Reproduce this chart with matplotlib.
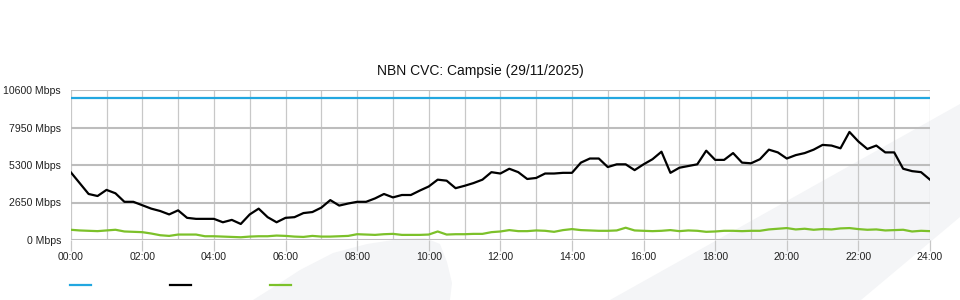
import numpy as np
import matplotlib
matplotlib.use("Agg")
import matplotlib.pyplot as plt
from matplotlib.patches import Polygon
from matplotlib.lines import Line2D

plt.rcParams['font.family'] = ['Liberation Sans', 'DejaVu Sans']

# data, 15 minute samples from 00:00 to 24:00 (Mbps)
capacity = [10000] * 97

traffic = [
    4794, 4023, 3252, 3108, 3541, 3300, 2698, 2698,
    2457, 2216, 2048, 1807, 2096, 1566, 1494, 1494,
    1494, 1253, 1421, 1132, 1807, 2216, 1614, 1253,
    1566, 1614, 1903, 1975, 2288, 2819, 2433, 2578,
    2698, 2698, 2939, 3252, 3011, 3180, 3180, 3493,
    3782, 4264, 4192, 3662, 3830, 4023, 4264, 4794,
    4698, 5035, 4794, 4312, 4384, 4698, 4698, 4746,
    4746, 5468, 5758, 5758, 5155, 5348, 5348, 4938,
    5348, 5709, 6239, 4746, 5107, 5228, 5348, 6312,
    5661, 5661, 6143, 5468, 5420, 5709, 6384, 6191,
    5758, 5998, 6143, 6384, 6721, 6673, 6480, 7636,
    6962, 6432, 6673, 6191, 6191, 5035, 4866, 4794,
    4264,
]

upload = [
    723, 675, 650, 626, 675, 723, 602, 578,
    554, 458, 337, 289, 385, 385, 385, 265,
    265, 241, 217, 193, 241, 265, 265, 313,
    289, 241, 217, 289, 241, 241, 265, 289,
    409, 385, 361, 409, 433, 361, 361, 361,
    385, 602, 385, 409, 409, 433, 433, 554,
    602, 699, 626, 626, 675, 650, 578, 699,
    771, 699, 675, 650, 650, 675, 867, 675,
    650, 626, 650, 699, 626, 675, 650, 578,
    602, 650, 650, 626, 650, 650, 747, 795,
    843, 747, 795, 723, 771, 747, 819, 843,
    771, 723, 747, 675, 699, 723, 602, 650,
    626,
]

hours = np.linspace(0, 24, len(traffic))
y_ticks = [0, 2650, 5300, 7950, 10600]
x_ticks = list(range(0, 25, 2))
x_labels = ["%02d:00" % h for h in x_ticks]

fig = plt.figure(figsize=(9.6, 3.0), dpi=100)

# light decorative shapes in the page background
def px(points):
    return [(x / 960, 1 - y / 300) for x, y in points]

band = Polygon(px([(610, 300), (960, 104), (960, 217), (861, 300)]),
               closed=True, transform=fig.transFigure, facecolor='#f4f5f7',
               edgecolor='none', zorder=-5)
blob = Polygon(px([(253, 300), (280, 283), (300, 270), (333, 253), (367, 244),
                   (400, 239), (425, 238), (440, 244), (447, 262), (452, 283),
                   (450, 300)]),
               closed=True, transform=fig.transFigure, facecolor='#f4f5f7',
               edgecolor='none', zorder=-5)
fig.patches.extend([band, blob])

ax = fig.add_axes([70.7 / 960, 0.2, (930 - 70.7) / 960, 0.5])
ax.patch.set_alpha(0)

ax.plot(hours, capacity, color='#22a7e0', lw=1.6, zorder=3)
ax.plot(hours, traffic, color='black', lw=1.6, zorder=4)
ax.plot(hours, upload, color='#7cc12a', lw=1.6, zorder=3)

ax.set_xlim(0, 24)
ax.set_ylim(0, 10600)
ax.set_yticks(y_ticks)
ax.set_yticklabels(["%d Mbps" % v for v in y_ticks])
ax.set_xticks(x_ticks)
ax.set_xticklabels(x_labels)
ax.set_xticks(range(0, 25), minor=True)

for s in ax.spines.values():
    s.set_visible(False)

ax.grid(axis='x', which='both', color='#c8c8c8', lw=0.9, zorder=1)
ax.grid(axis='y', which='major', color='#bdbdbd', lw=1.5, zorder=1)
ax.tick_params(axis='x', which='major', length=8, width=0.9, color='#c8c8c8',
               labelsize=7.6, labelcolor='#222222', pad=0.5)
ax.tick_params(axis='x', which='minor', length=0)
ax.tick_params(axis='y', length=0, labelsize=7.6, labelcolor='#222222', pad=7)

fig.text(480 / 960, 1 - 71 / 300, "NBN CVC: Campsie (29/11/2025)",
         ha='center', va='center', fontsize=10, color='#111111')

# legend swatches without labels
for x0, c in [(70, '#22a7e0'), (170, 'black'), (270, '#7cc12a')]:
    fig.add_artist(Line2D([x0 / 960, (x0 + 21) / 960], [1 - 285 / 300] * 2,
                          transform=fig.transFigure, color=c, lw=1.6))

fig.savefig("out.png", dpi=100)
